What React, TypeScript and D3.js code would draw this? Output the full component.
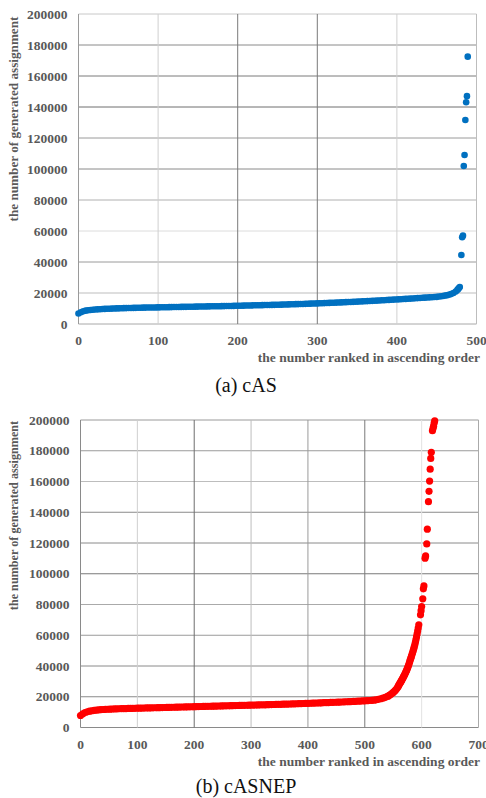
import React, {useEffect, useRef} from 'react';
import * as d3 from 'd3';

// (a) cAS: values read at every 3rd rank, 0..474
const casStep = 3;
const casValues = [
    6800, 7600, 8200, 8600, 8850, 9050, 9200, 9350, 9450, 9550,
    9650, 9730, 9800, 9870, 9940, 10000, 10060, 10110, 10160, 10210,
    10260, 10300, 10340, 10380, 10420, 10460, 10500, 10540, 10570, 10600,
    10630, 10660, 10690, 10720, 10750, 10780, 10810, 10840, 10870, 10900,
    10930, 10960, 10990, 11020, 11050, 11080, 11110, 11140, 11170, 11200,
    11230, 11260, 11290, 11320, 11350, 11380, 11410, 11440, 11470, 11500,
    11530, 11560, 11590, 11620, 11650, 11690, 11730, 11770, 11810, 11850,
    11890, 11930, 11970, 12010, 12050, 12090, 12130, 12170, 12210, 12250,
    12290, 12330, 12370, 12410, 12450, 12500, 12550, 12600, 12650, 12700,
    12750, 12800, 12850, 12900, 12950, 13000, 13060, 13120, 13180, 13240,
    13300, 13360, 13420, 13480, 13540, 13600, 13670, 13740, 13810, 13880,
    13950, 14020, 14090, 14160, 14230, 14300, 14380, 14460, 14540, 14620,
    14700, 14780, 14860, 14940, 15020, 15100, 15190, 15280, 15370, 15460,
    15550, 15640, 15730, 15820, 15910, 16000, 16100, 16200, 16300, 16400,
    16500, 16600, 16700, 16800, 16900, 17000, 17100, 17200, 17300, 17400,
    17500, 17700, 17900, 18150, 18450, 18800, 19300, 20000, 21000
];
// (a) cAS: end of the curve and the outliers, [rank, value]
const casTail: [number, number][] = [
    [476, 22000], [477, 22600], [478, 23200], [479, 23800],
    [481, 44500], [482, 56000], [483, 57000],
    [484, 101900], [485, 109000], [486, 131600], [487, 143100], [488, 147000], [489, 172500]
];

// (b) cASNEP: values read at every 4th rank, 0..540
const nepStep = 4;
const nepValues = [
    7800, 8900, 9700, 10200, 10600, 10900, 11100, 11300, 11450, 11600,
    11700, 11800, 11880, 11950, 12020, 12080, 12140, 12190, 12240, 12290,
    12340, 12380, 12420, 12460, 12500, 12540, 12580, 12620, 12660, 12700,
    12740, 12780, 12820, 12860, 12900, 12940, 12980, 13020, 13060, 13100,
    13140, 13180, 13220, 13260, 13300, 13340, 13380, 13420, 13460, 13500,
    13540, 13580, 13620, 13660, 13700, 13740, 13780, 13820, 13860, 13900,
    13940, 13980, 14020, 14060, 14100, 14140, 14180, 14220, 14260, 14300,
    14340, 14380, 14420, 14460, 14500, 14540, 14580, 14620, 14660, 14700,
    14740, 14780, 14820, 14860, 14900, 14950, 15000, 15050, 15100, 15150,
    15200, 15250, 15300, 15350, 15400, 15450, 15500, 15550, 15600, 15650,
    15700, 15760, 15820, 15880, 15940, 16000, 16060, 16120, 16180, 16240,
    16300, 16360, 16420, 16480, 16540, 16600, 16670, 16740, 16810, 16880,
    16950, 17030, 17110, 17190, 17270, 17350, 17450, 17550, 17650, 17780,
    18000, 18300, 18700, 19100, 19600, 20200
];
// (b) cASNEP: steep part and the scattered top points, [rank, value]
const nepTail: [number, number][] = [
    [542, 20600], [544, 21100], [546, 21600], [548, 22200], [550, 22800],
    [552, 23500], [554, 24300], [556, 25200], [558, 26200], [559, 26900],
    [560, 27700], [561, 28300], [562, 28900], [563, 29500], [564, 30100],
    [565, 30800], [566, 31500], [567, 32200], [568, 32900], [569, 33600],
    [570, 34300], [571, 35100], [572, 35900], [573, 36700], [574, 37600],
    [575, 38500], [576, 39500], [577, 40500], [578, 41600], [579, 42800],
    [580, 44000], [581, 45100], [582, 46200], [583, 47400], [584, 48600],
    [585, 49800], [586, 51100], [587, 52400], [588, 53800], [589, 55400],
    [590, 57100], [591, 58900], [592, 60800], [593, 62700], [594, 64700],
    [595, 66800],
    [598, 73300], [599, 76000], [600, 78700], [602, 83700], [603, 90200],
    [604, 92100], [606, 110100], [607, 111600], [609, 119400], [610, 129000],
    [612, 146900], [613, 153600], [614, 160300], [615, 168000], [616, 175000],
    [617, 179000], [619, 193000], [620, 194500], [621, 196000], [622, 198000],
    [623, 199500]
];

const yTicks = [0, 20000, 40000, 60000, 80000, 100000, 120000, 140000, 160000, 180000, 200000];
const casXTicks = [0, 100, 200, 300, 400, 500];
const nepXTicks = [0, 100, 200, 300, 400, 500, 600, 700];

const yTitle = 'the number of generated assignment';
const xTitle = 'the number ranked in ascending order';

const casPoints: [number, number][] = casValues.map((v, i) => [i * casStep, v] as [number, number]).concat(casTail);
const nepPoints: [number, number][] = nepValues.map((v, i) => [i * nepStep, v] as [number, number]).concat(nepTail);

const panels = [
    {
        plot: {left: 78.5, top: 14, right: 476.5, bottom: 324},
        xMax: 500,
        xTicks: casXTicks,
        points: casPoints,
        color: '#0070c0',
        r: 3.3,
        caption: '(a) cAS',
        captionY: 392,
        xTitleY: 362,
        yTitleX: 17.5,
        yTitleY: 119,
        yTitleSize: 13.2,
        gridX: {0: '#9a9a9a', 100: '#cfcfcf', 200: '#7a7a7a', 300: '#7a7a7a', 400: '#d0d0d0', 500: '#bdbdbd'} as Record<number, string>,
        gridY: {0: '#a8a8a8', 20000: '#bdbdbd', 40000: '#9a9a9a', 60000: '#dcdcdc', 80000: '#b0b0b0',
            100000: '#8a8a8a', 120000: '#9a9a9a', 140000: '#6e6e6e', 160000: '#7a7a7a', 180000: '#8a8a8a', 200000: '#c8c8c8'} as Record<number, string>
    },
    {
        plot: {left: 80.5, top: 420, right: 478.5, bottom: 727.5},
        xMax: 700,
        xTicks: nepXTicks,
        points: nepPoints,
        color: '#ff0000',
        r: 3.6,
        caption: '(b) cASNEP',
        captionY: 793,
        xTitleY: 766,
        yTitleX: 18,
        yTitleY: 515.5,
        yTitleSize: 12.2,
        gridX: {0: '#8a8a8a', 100: '#cfcfcf', 200: '#6e6e6e', 300: '#bdbdbd', 400: '#9a9a9a', 500: '#7a7a7a', 600: '#e2e2e2', 700: '#aaaaaa'} as Record<number, string>,
        gridY: {0: '#8a8a8a', 20000: '#8a8a8a', 40000: '#8a8a8a', 60000: '#9a9a9a', 80000: '#aaaaaa',
            100000: '#7a7a7a', 120000: '#8a8a8a', 140000: '#8a8a8a', 160000: '#bdbdbd', 180000: '#9a9a9a', 200000: '#9a9a9a'} as Record<number, string>
    }
];

const serif = '"Liberation Serif", "Times New Roman", serif';
const labelGray = '#595959';

const App: React.FC = () => {
    const svgRef = useRef<SVGSVGElement>(null);

    useEffect(() => {
        const svg = d3.select(svgRef.current);
        svg.selectAll('*').remove();

        panels.forEach(p => {
            const {left, top, right, bottom} = p.plot;
            const x = d3.scaleLinear().domain([0, p.xMax]).range([left, right]);
            const y = d3.scaleLinear().domain([0, 200000]).range([bottom, top]);
            const g = svg.append('g');

            // gridlines
            g.selectAll('.gy')
                .data(yTicks)
                .enter().append('line')
                .attr('x1', left).attr('x2', right)
                .attr('y1', d => y(d)).attr('y2', d => y(d))
                .attr('stroke', d => p.gridY[d] || '#aaa')
                .attr('stroke-width', 1);

            g.selectAll('.gx')
                .data(p.xTicks)
                .enter().append('line')
                .attr('y1', top).attr('y2', bottom)
                .attr('x1', d => x(d)).attr('x2', d => x(d))
                .attr('stroke', d => p.gridX[d] || '#aaa')
                .attr('stroke-width', 1);

            // tick labels
            g.selectAll('.ty')
                .data(yTicks)
                .enter().append('text')
                .attr('x', left - 11)
                .attr('y', d => y(d))
                .attr('dy', '0.35em')
                .attr('text-anchor', 'end')
                .style('font-family', serif)
                .style('font-weight', 'bold')
                .style('font-size', '13.5px')
                .attr('fill', labelGray)
                .text(d => String(d));

            g.selectAll('.tx')
                .data(p.xTicks)
                .enter().append('text')
                .attr('x', d => x(d))
                .attr('y', bottom + 21)
                .attr('text-anchor', 'middle')
                .style('font-family', serif)
                .style('font-weight', 'bold')
                .style('font-size', '13.5px')
                .attr('fill', labelGray)
                .text(d => String(d));

            // axis titles
            g.append('text')
                .attr('x', 480)
                .attr('y', p.xTitleY)
                .attr('text-anchor', 'end')
                .style('font-family', serif)
                .style('font-weight', 'bold')
                .style('font-size', '13.5px')
                .attr('fill', labelGray)
                .text(xTitle);

            g.append('text')
                .attr('transform', `translate(${p.yTitleX},${p.yTitleY}) rotate(-90)`)
                .attr('text-anchor', 'middle')
                .style('font-family', serif)
                .style('font-weight', 'bold')
                .style('font-size', `${p.yTitleSize}px`)
                .attr('fill', labelGray)
                .text(yTitle);

            // dots
            g.selectAll('.dot')
                .data(p.points)
                .enter().append('circle')
                .attr('cx', d => x(d[0]))
                .attr('cy', d => y(d[1]))
                .attr('r', p.r)
                .attr('fill', p.color);

            // caption
            g.append('text')
                .attr('x', 246)
                .attr('y', p.captionY)
                .attr('text-anchor', 'middle')
                .style('font-family', serif)
                .style('font-size', '20px')
                .attr('fill', '#111')
                .text(p.caption);
        });
    }, []);

    return (
        <svg
            ref={svgRef}
            width={486}
            height={798}
            style={{position: 'absolute', left: 0, top: 0, background: '#fff'}}
        />
    );
};

export default App;
